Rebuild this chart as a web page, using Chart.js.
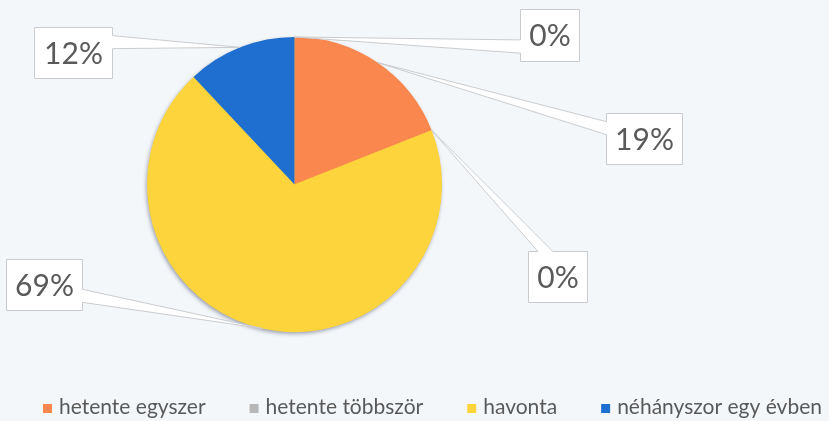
<!doctype html>
<html lang="hu">
<head>
<meta charset="utf-8">
<title>Gyakoriság</title>
<script src="https://cdn.jsdelivr.net/npm/chart.js@4.4.1/dist/chart.umd.min.js"></script>
<style>
  html, body { margin: 0; padding: 0; background: #f4f7fa; }
  #wrap { position: relative; width: 829px; height: 421px; overflow: hidden; }
</style>
</head>
<body>
<div id="wrap"><canvas id="canvas" width="829" height="421"></canvas></div>
<script>
// chart data
var labels = ["naponta többször", "hetente egyszer", "hetente többször", "havonta", "néhányszor egy évben"];
var values = [0, 19, 0, 69, 12];
var colors = ["#4f81bd", "#f9874e", "#b7b7b7", "#fdd43c", "#1f6fd1"];

// shadow under the pie (drawn once as a full disc, slices cover it)
var pieShadow = {
  id: 'pieShadow',
  beforeDatasetsDraw: function(chart) {
    var arc = chart.getDatasetMeta(0).data[0];
    if (!arc) return;
    var p = arc.getProps(['x', 'y', 'outerRadius'], true);
    var ctx = chart.ctx;
    ctx.save();
    ctx.shadowColor = 'rgba(20, 30, 60, 0.45)';
    ctx.shadowBlur = 4;
    ctx.shadowOffsetX = -1;
    ctx.shadowOffsetY = 2;
    ctx.beginPath();
    ctx.arc(p.x, p.y, p.outerRadius - 0.5, 0, Math.PI * 2);
    ctx.fillStyle = colors[3];
    ctx.fill();
    ctx.restore();
  }
};

// excel style wedge callouts with percentages
function wedgePath(ctx, b, tip) {
  var l = b.x + 0.5, t = b.y + 0.5, r = b.x + b.w - 0.5, bt = b.y + b.h - 0.5;
  var cx = b.x + b.w / 2, cy = b.y + b.h / 2;
  var dx = tip.x - cx, dy = tip.y - cy;
  var vertical = Math.abs(dy) > Math.abs(dx * b.h / b.w);
  var x1 = b.x + b.w * (dx > 0 ? 7 : 2) / 12, x2 = b.x + b.w * (dx > 0 ? 10 : 5) / 12;
  var y1 = b.y + b.h * (dy > 0 ? 7 : 2) / 12, y2 = b.y + b.h * (dy > 0 ? 10 : 5) / 12;
  ctx.beginPath();
  ctx.moveTo(l, t);
  if (vertical && dy < 0) { ctx.lineTo(x1, t); ctx.lineTo(tip.x, tip.y); ctx.lineTo(x2, t); }
  ctx.lineTo(r, t);
  if (!vertical && dx > 0) { ctx.lineTo(r, y1); ctx.lineTo(tip.x, tip.y); ctx.lineTo(r, y2); }
  ctx.lineTo(r, bt);
  if (vertical && dy > 0) { ctx.lineTo(x2, bt); ctx.lineTo(tip.x, tip.y); ctx.lineTo(x1, bt); }
  ctx.lineTo(l, bt);
  if (!vertical && dx < 0) { ctx.lineTo(l, y2); ctx.lineTo(tip.x, tip.y); ctx.lineTo(l, y1); }
  ctx.closePath();
}

var callouts = {
  id: 'callouts',
  afterDatasetsDraw: function(chart, args, opts) {
    var ctx = chart.ctx;
    var data = chart.data.datasets[0].data;
    var total = data.reduce(function(a, v) { return a + v; }, 0);
    chart.getDatasetMeta(0).data.forEach(function(arc, i) {
      var p = arc.getProps(['x', 'y', 'startAngle', 'endAngle', 'outerRadius'], true);
      var mid = (p.startAngle + p.endAngle) / 2;
      var tip = { x: p.x + Math.cos(mid) * p.outerRadius, y: p.y + Math.sin(mid) * p.outerRadius };
      var b = opts.boxes[i];
      ctx.save();
      wedgePath(ctx, b, tip);
      ctx.fillStyle = '#ffffff';
      ctx.fill();
      ctx.lineWidth = 1;
      ctx.strokeStyle = '#c9cbce';
      ctx.stroke();
      ctx.font = opts.font;
      ctx.fillStyle = '#5a5a5a';
      ctx.textAlign = 'center';
      ctx.textBaseline = 'middle';
      ctx.fillText(Math.round(data[i] / total * 100) + '%', b.x + b.w / 2, b.y + b.h / 2 + 1);
      ctx.restore();
    });
  }
};

// bottom legend, cropped on the left like the original picture
var cutLegend = {
  id: 'cutLegend',
  afterDraw: function(chart, args, opts) {
    var ctx = chart.ctx;
    ctx.save();
    ctx.font = opts.font;
    ctx.textBaseline = 'alphabetic';
    var labs = chart.data.labels;
    var widths = labs.map(function(s) { return opts.box + opts.pad + ctx.measureText(s).width; });
    var x = opts.anchorX;
    for (var k = 0; k < opts.anchorIndex; k++) x -= widths[k] + opts.gap;
    labs.forEach(function(s, i) {
      ctx.fillStyle = chart.data.datasets[0].backgroundColor[i];
      ctx.fillRect(x, opts.y - opts.box, opts.box, opts.box);
      ctx.fillStyle = '#595959';
      ctx.fillText(s, x + opts.box + opts.pad, opts.y + 1);
      x += widths[i] + opts.gap;
    });
    ctx.restore();
  }
};

var config = {
  type: 'pie',
  data: {
    labels: labels,
    datasets: [{
      data: values,
      backgroundColor: colors,
      borderWidth: 0
    }]
  },
  options: {
    responsive: false,
    animation: false,
    layout: { padding: { top: 37, bottom: 89, left: 147, right: 387 } },
    plugins: {
      legend: { display: false },
      tooltip: { enabled: false },
      callouts: {
        font: '30px Lato',
        boxes: [
          { x: 520, y: 9, w: 60, h: 53 },
          { x: 606, y: 113, w: 77, h: 52 },
          { x: 528, y: 251, w: 60, h: 52 },
          { x: 6, y: 259, w: 77, h: 52 },
          { x: 34, y: 27, w: 79, h: 52 }
        ]
      },
      cutLegend: { font: '21px Lato', box: 9, pad: 7, gap: 44, y: 413, anchorX: 43, anchorIndex: 1 }
    }
  },
  plugins: [pieShadow, callouts, cutLegend]
};

window.onload = function() {
  window.myPie = new Chart(document.getElementById('canvas'), config);
};
</script>
</body>
</html>
